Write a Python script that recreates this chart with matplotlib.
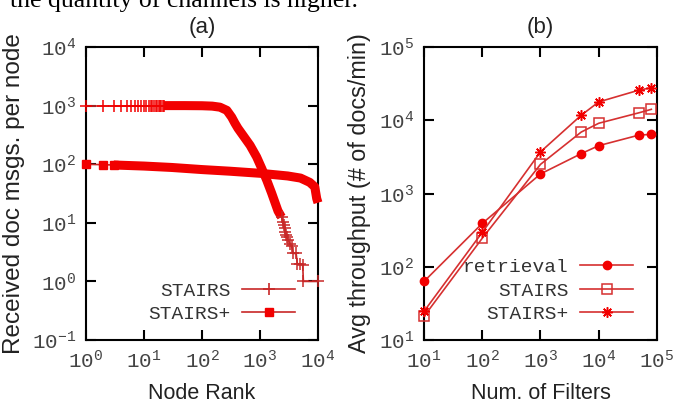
import numpy as np
import matplotlib
matplotlib.use("Agg")
import matplotlib.pyplot as plt
from matplotlib.lines import Line2D
from matplotlib.ticker import FixedLocator, FuncFormatter, NullLocator

# ---- panel (a): received doc msgs per node vs node rank ----
stairs_head_rank = [1, 2, 3, 4, 5, 6, 7, 8, 9, 10, 11, 12, 13, 14, 15, 16, 17, 18, 19, 20, 21, 22]
stairs_head_val = [1000, 1000, 1000, 1000, 1000, 1000, 1000, 1000, 1000, 1000, 1000,
                   1000, 1000, 1000, 1000, 1000, 1000, 1000, 1000, 1000, 1000, 1000]
stairs_band_rank = [22, 50, 100, 150, 204, 268, 325, 370, 417, 510, 675, 875, 1070, 1310, 1590, 2040, 2350]
stairs_band_val = [1000, 1000, 995, 980, 940, 830, 635, 500, 410, 310, 210, 133, 85, 53, 32, 16, 12.5]
stairs_tail_rank = [2350, 2450, 2550, 2650, 2750, 2850, 2950, 3100, 3300, 3500, 3750, 4200, 4400, 4800, 5450, 5600, 10000]
stairs_tail_val = [12.5, 10.5, 9, 8, 7, 6.3, 5.7, 5, 4.4, 4, 3, 3, 2, 2, 1.9, 1, 1]

plus_head_rank = [1, 2, 3]
plus_head_val = [100, 98, 97]
plus_band_rank = [3, 10, 30, 100, 300, 1000, 3000, 5000, 7200, 8800, 9500, 10000]
plus_band_val = [97, 93, 88, 81, 76, 70, 63, 58, 49, 41, 26, 22]

# ---- panel (b): avg throughput vs number of filters ----
filters = [10, 100, 1000, 5000, 10000, 50000, 80000]
retrieval = [63, 390, 1850, 3500, 4500, 6300, 6400]
stairs = [21, 245, 2500, 6900, 9100, 12700, 14100]
stairs_plus = [24.6, 295, 3700, 11700, 17800, 25900, 27800]

RED = "#f20000"
DARK = "#c82828"
LINE_B = "#d63030"

mono = "Liberation Mono"
sans = "Liberation Sans"


def pow10(v, pos):
    return r"$\mathregular{10^{%d}}$" % int(round(np.log10(v)))


def style_axes(ax, xdec, ydec):
    ax.set_xscale("log")
    ax.set_yscale("log")
    ax.set_xlim(10.0 ** xdec[0], 10.0 ** xdec[-1])
    ax.set_ylim(10.0 ** ydec[0], 10.0 ** ydec[-1])
    ax.xaxis.set_major_locator(FixedLocator([10.0 ** d for d in xdec]))
    ax.yaxis.set_major_locator(FixedLocator([10.0 ** d for d in ydec]))
    ax.xaxis.set_minor_locator(NullLocator())
    ax.yaxis.set_minor_locator(NullLocator())
    ax.xaxis.set_major_formatter(FuncFormatter(pow10))
    ax.yaxis.set_major_formatter(FuncFormatter(pow10))
    ax.tick_params(which="major", direction="in", length=7.5, width=1.5,
                   top=True, right=True, colors="black", labelcolor="#444444",
                   labelsize=15, pad=7)
    for lab in ax.get_xticklabels() + ax.get_yticklabels():
        lab.set_family(mono)
    for s in ax.spines.values():
        s.set_linewidth(1.5)
        s.set_color("black")


fig = plt.figure(figsize=(6.73, 4.07), dpi=100)

# heading text cut off at the top of the page scan
fig.text(0.0149, 0.9835, "the quantity of channels is higher.", family="Liberation Serif",
         fontsize=18.5, color="black", va="baseline", ha="left")

# panel (a)
ax1 = fig.add_axes([0.1278, 0.1646, 0.3447, 0.7199])
ax1.plot(stairs_head_rank, stairs_head_val, color=DARK, lw=1.2, marker="+", ms=8,
         mew=1.1, mec=RED, clip_on=False, zorder=3)
ax1.plot(stairs_band_rank, stairs_band_val, color=RED, lw=6.5, solid_capstyle="butt",
         solid_joinstyle="round", zorder=3)
ax1.plot(stairs_tail_rank, stairs_tail_val, color=DARK, lw=1.2, marker="+", ms=8,
         mew=1.1, mec=DARK, clip_on=False, zorder=3)
ax1.plot(plus_head_rank, plus_head_val, color=DARK, lw=1.2, marker="s", ms=6,
         mfc=RED, mec=RED, clip_on=False, zorder=3)
ax1.plot(plus_band_rank, plus_band_val, color=RED, lw=6.5, solid_capstyle="butt",
         solid_joinstyle="round", clip_on=False, zorder=3)
style_axes(ax1, [0, 1, 2, 3, 4], [-1, 0, 1, 2, 3, 4])
ax1.set_xlabel("Node Rank", family=sans, fontsize=15.5, color="#222222", labelpad=8)
ax1.set_ylabel("Received doc msgs. per node", family=sans, fontsize=17.5, color="#222222",
               labelpad=5)
ax1.set_title("(a)", family=sans, fontsize=16, color="#222222", pad=10)
h_a = [Line2D([], [], color=DARK, lw=1.2, marker="+", ms=9, mew=1.2),
       Line2D([], [], color=DARK, lw=1.2, marker="s", ms=6, mfc=RED, mec=RED)]
leg = ax1.legend(h_a, ["STAIRS", "STAIRS+"], loc="lower right", bbox_to_anchor=(0.90, 0.058),
                 frameon=False, borderpad=0, borderaxespad=0, handlelength=2.7,
                 handletextpad=0.6, labelspacing=0.3, markerfirst=False,
                 prop={"family": mono, "size": 14})
for t in leg.get_texts():
    t.set_color("#333333")

# panel (b)
ax2 = fig.add_axes([0.630, 0.1646, 0.3462, 0.7199])
ax2.plot(filters, retrieval, color=LINE_B, lw=1.2, marker="o", ms=6, mfc=RED, mec=RED,
         clip_on=False, zorder=3, label="retrieval")
ax2.plot(filters, stairs, color=LINE_B, lw=1.2, marker="s", ms=7, mfc="none", mec=LINE_B,
         mew=1.1, clip_on=False, zorder=3, label="STAIRS")
ax2.plot(filters, stairs_plus, color=LINE_B, lw=1.2, marker=(8, 2, 0), ms=7.5, mec=RED,
         mew=1.1, clip_on=False, zorder=3, label="STAIRS+")
style_axes(ax2, [1, 2, 3, 4, 5], [1, 2, 3, 4, 5])
ax2.set_xlabel("Num. of Filters", family=sans, fontsize=15.5, color="#222222", labelpad=8)
ax2.set_ylabel("Avg throughput (# of docs/min)", family=sans, fontsize=16.8, color="#222222",
               labelpad=6)
ax2.set_title("(b)", family=sans, fontsize=16, color="#222222", pad=10)
leg2 = ax2.legend(loc="lower right", bbox_to_anchor=(0.897, 0.058), frameon=False,
                  borderpad=0, borderaxespad=0, handlelength=2.7, handletextpad=0.6,
                  labelspacing=0.3, markerfirst=False, prop={"family": mono, "size": 14})
for t in leg2.get_texts():
    t.set_color("#333333")

fig.savefig("out.png", dpi=100)
